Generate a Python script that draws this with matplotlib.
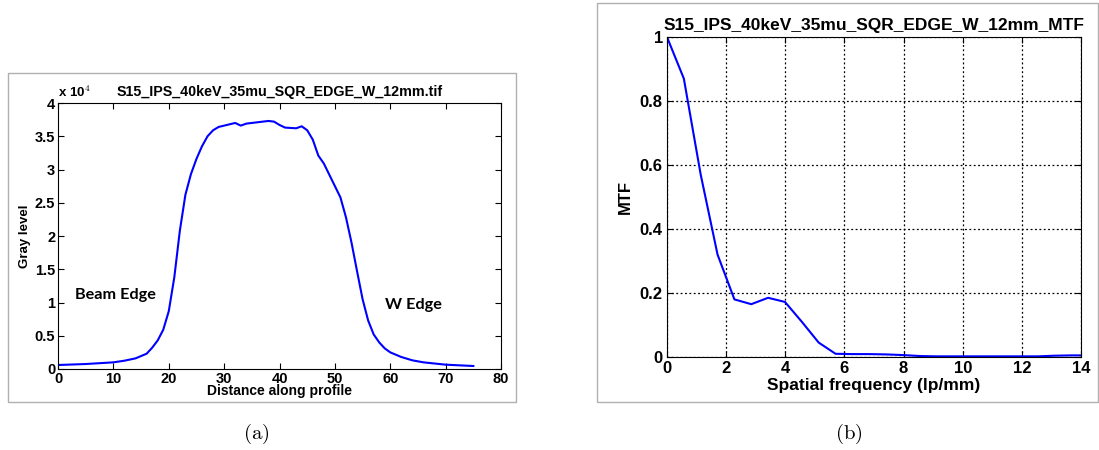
import numpy as np
import matplotlib.pyplot as plt
from matplotlib.patches import Rectangle
from matplotlib.ticker import FuncFormatter

plt.rcParams['font.family'] = ['Liberation Sans', 'DejaVu Sans']
plt.rcParams['mathtext.fontset'] = 'cm'

# (a) edge profile
dist = [0, 5, 10, 12, 14, 16, 17, 18, 19, 20, 21, 22, 23, 24, 25, 26, 27, 28, 29, 30,
        32, 33, 34, 36, 38, 39, 40, 41, 43, 44, 45, 46, 47, 48, 49, 50, 51, 52, 53,
        54, 55, 56, 57, 58, 59, 60, 62, 64, 66, 70, 75]
gray = [600, 750, 1000, 1250, 1600, 2300, 3200, 4300, 5900, 8700, 13800, 20800, 26200,
        29300, 31600, 33500, 35000, 35900, 36400, 36600, 37000, 36600, 36900, 37100,
        37300, 37200, 36700, 36300, 36200, 36500, 35900, 34500, 32100, 30900, 29200,
        27500, 25800, 22800, 19000, 14700, 10500, 7300, 5200, 4000, 3100, 2500, 1800,
        1300, 1000, 650, 450]

# (b) MTF
freq = [0, 0.57, 1.14, 1.71, 2.28, 2.85, 3.42, 3.99, 4.56, 5.13, 5.7, 6.27, 6.84,
        7.41, 7.98, 8.55, 9.12, 9.69, 10.26, 10.83, 11.4, 11.97, 12.54, 13.11, 13.68, 14.25]
mtf = [1.0, 0.87, 0.57, 0.32, 0.18, 0.165, 0.185, 0.172, 0.11, 0.045, 0.01, 0.009,
       0.009, 0.008, 0.006, 0.003, 0.002, 0.002, 0.002, 0.002, 0.002, 0.002, 0.002,
       0.004, 0.005, 0.005]

fig = plt.figure(figsize=(10.99, 4.5), dpi=100)

# light panel frames
for r in [(0.0073, 0.1067, 0.4622, 0.7311), (0.5432, 0.1067, 0.4559, 0.8867)]:
    fig.add_artist(Rectangle(r[:2], r[2], r[3], transform=fig.transFigure,
                             fill=False, ec='#b0b0b0', lw=1))

ax1 = fig.add_axes([0.0528, 0.18, 0.4031, 0.5911])
ax1.plot(dist, gray, color='blue', lw=1.5)
ax1.set_xlim(0, 80)
ax1.set_ylim(0, 40000)
ax1.set_xticks(np.arange(0, 81, 10))
ax1.set_yticks(np.arange(0, 40001, 5000))
ax1.yaxis.set_major_formatter(FuncFormatter(lambda v, p: '%g' % (v / 1e4)))
ax1.tick_params(direction='in', top=True, right=True, labelsize=10.5, length=4, pad=2)
for lab in ax1.get_xticklabels() + ax1.get_yticklabels():
    lab.set_fontweight('bold')
ax1.set_title('S15_IPS_40keV_35mu_SQR_EDGE_W_12mm.tif', fontsize=10.3,
              fontweight='bold', pad=5)
ax1.text(0.0, 1.01, r'x 10$^4$', transform=ax1.transAxes, fontsize=9.5,
         fontweight='bold', va='bottom')
ax1.set_xlabel('Distance along profile', fontsize=10, fontweight='bold', labelpad=-1)
ax1.set_ylabel('Gray level', fontsize=9.5, fontweight='bold', labelpad=3)
ax1.text(3, 10500, 'Beam Edge', fontsize=11.7, fontweight='bold', family='Lato')
ax1.text(59, 9000, 'W Edge', fontsize=11.7, fontweight='bold', family='Lato')

ax2 = fig.add_axes([0.6069, 0.2067, 0.3767, 0.7111])
ax2.plot(freq, mtf, color='blue', lw=1.5)
ax2.set_xlim(0, 14)
ax2.set_ylim(0, 1)
ax2.set_xticks(np.arange(0, 15, 2))
ax2.set_yticks([0, 0.2, 0.4, 0.6, 0.8, 1])
ax2.yaxis.set_major_formatter(FuncFormatter(lambda v, p: '%g' % v))
ax2.grid(True, color='black', ls=(0, (1.5, 2)), lw=0.9)
ax2.tick_params(direction='in', top=True, right=True, labelsize=12, length=4, pad=3)
for lab in ax2.get_xticklabels() + ax2.get_yticklabels():
    lab.set_fontweight('bold')
ax2.set_title('S15_IPS_40keV_35mu_SQR_EDGE_W_12mm_MTF', fontsize=12.5,
              fontweight='bold', pad=5)
ax2.set_xlabel('Spatial frequency (lp/mm)', fontsize=12.5, fontweight='bold', labelpad=1)
ax2.set_ylabel('MTF', fontsize=12, fontweight='bold', labelpad=5)

fig.text(0.233, 0.025, r'$\mathrm{(a)}$', fontsize=15, ha='center')
fig.text(0.772, 0.025, r'$\mathrm{(b)}$', fontsize=15, ha='center')

fig.savefig('out.png', dpi=100)
